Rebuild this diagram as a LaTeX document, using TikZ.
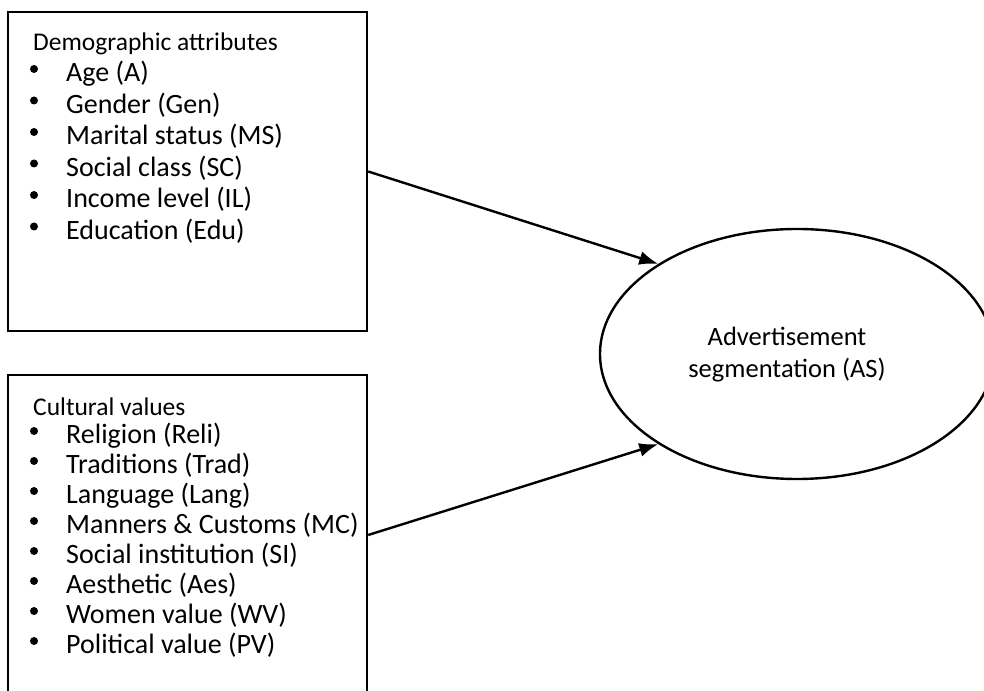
\documentclass[tikz,border=0pt]{standalone}
\usepackage{fontspec}
\setmainfont{Carlito}
\usetikzlibrary{arrows.meta,positioning,shapes.geometric}
\tikzset{>={Latex[length=19pt,width=14pt]}}
\tikzset{varbox/.style={draw, line width=2.4pt, minimum width=359pt, minimum height=319pt, inner sep=0pt}}
\tikzset{heading/.style={anchor=base west, inner sep=0pt, font=\fontsize{25.5}{30}\selectfont}}
\tikzset{item/.style={anchor=base west, inner sep=0pt, font=\fontsize{28}{31}\selectfont}}

\begin{document}
\begin{tikzpicture}[x=1pt,y=1pt,line width=2.4pt]
      \useasboundingbox (0,0) rectangle (984,690);
      \clip (0,0) rectangle (984,690);
      \node[varbox] (demo) at (187.5,518.5) {};
      \node[varbox, minimum height=320pt] (cult) at (187.5,155) {};
      \node[draw, ellipse, line width=2.4pt, minimum width=394pt, minimum height=250pt, inner sep=0pt] (adv) at (797,336) {};
      \node[align=center, inner sep=0pt, font=\fontsize{26.5}{32}\selectfont] (adv-label) at (787,335) {Advertisement\\segmentation (AS)};
      % demographic attributes
      \node[heading] (demo-title) at (32,639) {Demographic attributes};
      \foreach \txt [count=\i] in {Age (A), Gender (Gen), Marital status (MS), Social class (SC), Income level (IL), Education (Edu)}
      {
        \pgfmathsetmacro\yy{639.5-31.5*\i}
        \node[item] (demo-\i) at (65,\yy) {\txt};
        \fill (34,\yy+13) circle (4);
      }
      % cultural values
      \node[heading] (cult-title) at (32,274) {Cultural values};
      \foreach \txt [count=\i] in {Religion (Reli), Traditions (Trad), Language (Lang), Manners \& Customs (MC), Social institution (SI), Aesthetic (Aes), Women value (WV), Political value (PV)}
      {
        \pgfmathsetmacro\yy{276-30*\i}
        \node[item] (cult-\i) at (65,\yy) {\txt};
        \fill (34,\yy+13) circle (4);
      }
      \draw[->] (demo.east) -- (adv.147);
      \draw[->] (cult.east) -- (adv.213);
    \end{tikzpicture}
\end{document}
